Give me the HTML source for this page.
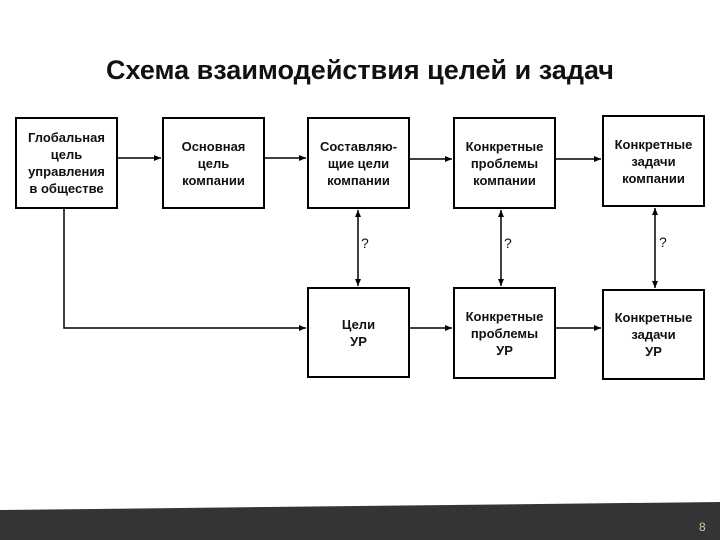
<!DOCTYPE html>
<html><head><meta charset="utf-8"><style>
body{margin:0;width:720px;height:540px;background:#fff;position:relative;overflow:hidden;font-family:"Liberation Sans",sans-serif}
.t{position:absolute;left:0;width:720px;top:55px;text-align:center;font-size:27px;font-weight:bold;color:#111}
.b{position:absolute;border:2px solid #000;box-sizing:border-box;display:flex;align-items:center;justify-content:center;text-align:center;font-size:13px;font-weight:bold;line-height:17px;color:#111}
.q{position:absolute;font-size:14px;color:#111}
</style></head><body>
<div class="t">Схема взаимодействия целей и задач</div>
<div class="b" style="left:15px;top:117px;width:103px;height:92px">Глобальная<br>цель<br>управления<br>в обществе</div>
<div class="b" style="left:162px;top:117px;width:103px;height:92px">Основная<br>цель<br>компании</div>
<div class="b" style="left:307px;top:117px;width:103px;height:92px">Составляю-<br>щие цели<br>компании</div>
<div class="b" style="left:453px;top:117px;width:103px;height:92px">Конкретные<br>проблемы<br>компании</div>
<div class="b" style="left:602px;top:115px;width:103px;height:92px">Конкретные<br>задачи<br>компании</div>
<div class="b" style="left:307px;top:287px;width:103px;height:91px">Цели<br>УР</div>
<div class="b" style="left:453px;top:287px;width:103px;height:92px">Конкретные<br>проблемы<br>УР</div>
<div class="b" style="left:602px;top:289px;width:103px;height:91px">Конкретные<br>задачи<br>УР</div>
<svg width="720" height="540" style="position:absolute;left:0;top:0">
<defs><marker id="a" markerWidth="8" markerHeight="8" refX="7" refY="4" orient="auto-start-reverse" markerUnits="userSpaceOnUse"><path d="M0,1 L7,4 L0,7z" fill="#000"/></marker></defs>
<g stroke="#000" stroke-width="1.5" fill="none">
<line x1="118" y1="158" x2="161" y2="158" marker-end="url(#a)"/>
<line x1="265" y1="158" x2="306" y2="158" marker-end="url(#a)"/>
<line x1="410" y1="159" x2="452" y2="159" marker-end="url(#a)"/>
<line x1="556" y1="159" x2="601" y2="159" marker-end="url(#a)"/>
<line x1="410" y1="328" x2="452" y2="328" marker-end="url(#a)"/>
<line x1="556" y1="328" x2="601" y2="328" marker-end="url(#a)"/>
<polyline points="64,209 64,328 306,328" marker-end="url(#a)"/>
<line x1="358" y1="210" x2="358" y2="286" marker-start="url(#a)" marker-end="url(#a)"/>
<line x1="501" y1="210" x2="501" y2="286" marker-start="url(#a)" marker-end="url(#a)"/>
<line x1="655" y1="208" x2="655" y2="288" marker-start="url(#a)" marker-end="url(#a)"/>
</g>
<polygon points="0,510 720,502 720,540 0,540" fill="#343434"/>
<text x="699" y="531" font-size="12" fill="#d9c49a" font-family="Liberation Sans">8</text>
</svg>
<div class="q" style="left:361px;top:235px">?</div>
<div class="q" style="left:504px;top:235px">?</div>
<div class="q" style="left:659px;top:234px">?</div>
</body></html>
